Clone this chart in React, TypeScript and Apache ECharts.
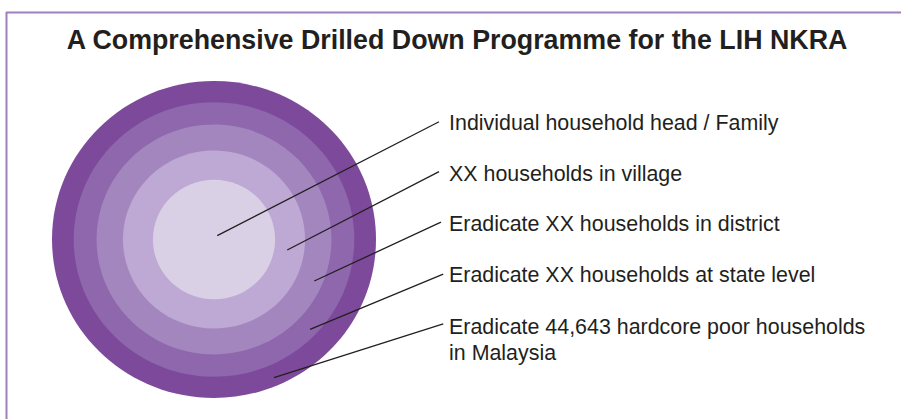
import React, { useEffect, useRef } from "react";
import * as echarts from "echarts";

const titleText = "A Comprehensive Drilled Down Programme for the LIH NKRA";

// Levels, from the innermost ring to the outermost ring
const levels = [
  "Individual household head / Family",
  "XX households in village",
  "Eradicate XX households in district",
  "Eradicate XX households at state level",
  "Eradicate 44,643 hardcore poor households\nin Malaysia",
];

// Ring radii (outer ring = 100 units), innermost first
const ringRadii = [37.7, 56.2, 72.5, 86.6, 100];
const ringColors = ["#dad0e6", "#bea8d4", "#a486bf", "#8e67ad", "#7d4a9b"];

// Leader line start points (inside each ring), end points and label anchors
const leaderFrom = [
  [2, 2.4],
  [45.2, -6.6],
  [61.9, -26.2],
  [59.3, -56.7],
  [37.0, -87.2],
];
const leaderTo = [
  [138.9, 74.3],
  [138.9, 42.8],
  [140.1, 11.0],
  [141.5, -21.8],
  [141.5, -53.3],
];
const labelAt = [
  [145.1, 73.2],
  [145.1, 41.3],
  [145.1, 9.8],
  [145.1, -22.4],
  [145.1, -55.2],
];

const FONT = "'Liberation Sans', Arial, Helvetica, sans-serif";

export default function App() {
  const ref = useRef<HTMLDivElement>(null);

  useEffect(() => {
    if (!ref.current) return;
    const chart = echarts.init(ref.current, undefined, { renderer: "svg" });

    const ringData = ringRadii
      .map((r, i) => ({ value: [r], itemStyle: { color: ringColors[i] } }))
      .reverse();

    const leaderData = levels.map((_, i) => [
      leaderFrom[i][0],
      leaderFrom[i][1],
      leaderTo[i][0],
      leaderTo[i][1],
      labelAt[i][0],
      labelAt[i][1],
    ]);

    const option: any = {
      animation: false,
      backgroundColor: "#ffffff",
      grid: { left: 52, top: 81, width: 648, height: 317 },
      xAxis: { type: "value", min: -100, max: 300, show: false },
      yAxis: { type: "value", min: -100, max: 100, show: false },
      graphic: [
        {
          type: "line",
          shape: { x1: 6, y1: 12.5, x2: 901, y2: 12.5 },
          style: { stroke: "#a07fc0", lineWidth: 2 },
        },
        {
          type: "line",
          shape: { x1: 6.5, y1: 12, x2: 6.5, y2: 419 },
          style: { stroke: "#a07fc0", lineWidth: 2 },
        },
        {
          type: "text",
          x: 457,
          y: 39.5,
          style: {
            text: titleText,
            fill: "#231f20",
            fontSize: 26.8,
            fontWeight: "bold",
            fontFamily: FONT,
            align: "center",
            verticalAlign: "middle",
          },
        },
      ],
      series: [
        {
          type: "custom",
          clip: false,
          data: ringData,
          renderItem: (params: any, api: any) => {
            const c = api.coord([0, 0]);
            const r = api.value(0);
            const s = api.size([r, r]);
            return {
              type: "ellipse",
              shape: { cx: c[0], cy: c[1], rx: s[0], ry: s[1] },
              style: { fill: api.visual("color") },
            };
          },
        },
        {
          type: "custom",
          clip: false,
          data: leaderData,
          renderItem: (params: any, api: any) => {
            const p1 = api.coord([api.value(0), api.value(1)]);
            const p2 = api.coord([api.value(2), api.value(3)]);
            const pl = api.coord([api.value(4), api.value(5)]);
            return {
              type: "group",
              children: [
                {
                  type: "line",
                  shape: { x1: p1[0], y1: p1[1], x2: p2[0], y2: p2[1] },
                  style: { stroke: "#231f20", lineWidth: 1.3 },
                },
                {
                  type: "text",
                  x: pl[0],
                  y: pl[1] - 13,
                  style: {
                    text: levels[params.dataIndex],
                    fill: "#231f20",
                    fontSize: 21.4,
                    fontFamily: FONT,
                    lineHeight: 26,
                    align: "left",
                    verticalAlign: "top",
                  },
                },
              ],
            };
          },
        },
      ],
    };

    chart.setOption(option);
    return () => chart.dispose();
  }, []);

  return (
    <div
      ref={ref}
      style={{ position: "fixed", left: 0, top: 0, width: 901, height: 419 }}
    />
  );
}
